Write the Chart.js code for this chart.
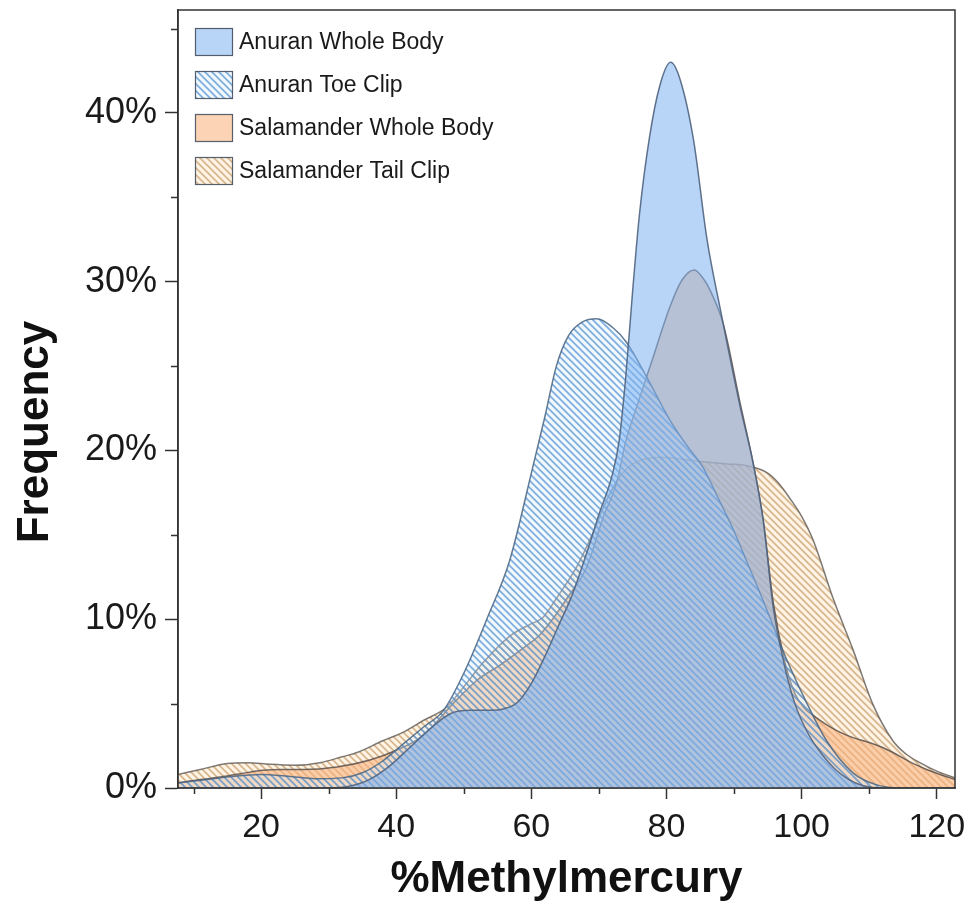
<!DOCTYPE html>
<html>
<head>
<meta charset="utf-8">
<script src="https://cdn.jsdelivr.net/npm/chart.js@4.4.0/dist/chart.umd.min.js"></script>
<style>
  html, body { margin: 0; padding: 0; background: #fff; }
  #wrap { width: 974px; height: 906px; }
</style>
</head>
<body>
<div id="wrap"><canvas id="densityChart" width="974" height="906"></canvas></div>
<script>
// ===== Data =====
const seriesNames = ['Anuran Whole Body', 'Anuran Toe Clip', 'Salamander Whole Body', 'Salamander Tail Clip'];

const anuranBodyX = [7.7, 30, 33, 36, 39, 42, 45, 48, 51, 54, 56, 58, 60, 62, 64, 66, 68, 70, 72, 73, 74, 75, 76, 77.5, 79, 80.6, 82, 84, 86, 88, 90.9, 92.8, 94.3, 95.8, 97.5, 99, 101, 103, 105, 107, 109, 112, 122.7];
const anuranBodyY = [0, 0, 0.1, 0.5, 1.3, 2.4, 3.5, 4.4, 4.6, 4.6, 4.7, 5.1, 6.2, 7.8, 9.6, 11.4, 13.7, 16.2, 18.6, 20.6, 24.5, 29.5, 34, 38.6, 41.6, 43.0, 42.0, 38.4, 32.5, 28.3, 22.6, 19.3, 15.9, 10.7, 7.2, 5.0, 3.2, 2.0, 1.1, 0.5, 0.15, 0, 0];

const toeClipX = [7.7, 12, 16, 20, 24, 28, 32, 35, 38, 41, 44, 47, 50, 53.4, 56.8, 60.2, 62, 63.7, 65.5, 67.5, 69.7, 72, 74.1, 77, 80.5, 83, 85.4, 87.5, 89.9, 91.8, 93.8, 95.8, 97.8, 100.8, 103.7, 107.6, 111, 115, 122.7];
const toeClipY = [0.3, 0.5, 0.7, 0.8, 0.7, 0.55, 0.6, 0.9, 1.6, 2.6, 3.6, 4.6, 6.8, 10.0, 13.5, 19.0, 22.0, 25.0, 26.8, 27.6, 27.8, 27.3, 26.4, 24.4, 21.8, 20.3, 19.0, 17.3, 15.3, 13.5, 11.6, 9.6, 7.6, 5.0, 2.8, 0.9, 0.2, 0, 0];

const salBodyX = [7.7, 11, 14, 17, 20.3, 23, 26.2, 31.2, 36.1, 40.1, 44, 48.4, 52, 55.4, 58.5, 61.3, 63.5, 65.2, 68.2, 70.6, 72.7, 74, 75.6, 78, 80.5, 82.3, 84.1, 85.6, 86.9, 88.4, 90.9, 92.8, 94.3, 95.8, 97.5, 99, 100.5, 101.7, 103.5, 105.2, 107.5, 110, 112, 114, 116, 118.5, 120.5, 122.7];
const salBodyY = [0.3, 0.5, 0.65, 0.85, 1.05, 1.1, 1.1, 1.25, 1.66, 2.25, 3.1, 5.0, 6.4, 7.3, 8.2, 9.1, 10.2, 11.2, 13.1, 16.0, 18.2, 20.6, 22.6, 25.5, 28.5, 30.1, 30.7, 30.1, 29.1, 27.5, 22.8, 19.3, 15.9, 11.0, 7.5, 5.6, 4.7, 4.3, 3.8, 3.4, 3.0, 2.7, 2.4, 2.0, 1.55, 1.1, 0.8, 0.5];

const tailClipX = [7.7, 11, 15, 18, 21.3, 25, 28.7, 32, 34.2, 38, 41, 44, 47.5, 50, 52.8, 56.8, 59.8, 61.7, 63.8, 66.7, 69.1, 71.2, 73, 75, 79, 85, 89, 91.9, 94.8, 96.5, 98.2, 100, 101.7, 104.6, 107.6, 110.5, 113.5, 115.5, 117.5, 120, 122.7];
const tailClipY = [0.8, 1.1, 1.45, 1.5, 1.4, 1.35, 1.5, 1.85, 2.1, 2.8, 3.3, 4.0, 4.8, 6.0, 7.4, 9.0, 9.7, 10.1, 11.3, 13.1, 15.1, 17.1, 18.4, 19.2, 19.6, 19.35, 19.2, 19.1, 18.7, 18.1, 17.2, 16.1, 14.7, 11.3, 8.2, 5.0, 2.8, 2.0, 1.5, 1.0, 0.6];

const xMajorTicks = [20, 40, 60, 80, 100, 120];
const xMinorTicks = [10, 30, 50, 70, 90, 110];
const yMajorTicks = [0, 10, 20, 30, 40];
const yMinorTicks = [5, 15, 25, 35, 45];

const X_MIN = 7.7, X_MAX = 122.7;
const Y_MIN = 0, Y_MAX = 46.1;

const AXIS_COLOR = '#333333';
const FONT = '"Liberation Sans", Arial, Helvetica, sans-serif';

// ===== Hatch patterns =====
function makeHatch(base, stripe, size, width) {
    const c = document.createElement('canvas');
    c.width = size; c.height = size;
    const g = c.getContext('2d');
    g.fillStyle = base;
    g.fillRect(0, 0, size, size);
    g.strokeStyle = stripe;
    g.lineWidth = width;
    g.beginPath();
    // "\" diagonals, wrapped at the corners so tiles join up
    g.moveTo(-1, -1); g.lineTo(size + 1, size + 1);
    g.moveTo(-1, size - 1); g.lineTo(1, size + 1);
    g.moveTo(size - 1, -1); g.lineTo(size + 1, 1);
    g.stroke();
    return g.createPattern(c, 'repeat');
}

const toeClipFill = makeHatch('rgba(215,235,252,0.35)', 'rgba(90,150,210,0.75)', 7, 1.7);
const tailClipFill = makeHatch('rgba(253,228,190,0.40)', 'rgba(200,155,105,0.70)', 7, 1.7);

function toPoints(xs, ys) {
    return xs.map((x, i) => ({ x: x, y: ys[i] }));
}

// ===== Frame, minor ticks, y title and legend inside the plot =====
const framePlugin = {
    id: 'frame',
    afterDraw(chart) {
        const { ctx, chartArea: a, scales } = chart;
        ctx.save();
        ctx.strokeStyle = AXIS_COLOR;
        ctx.lineWidth = 1.5;
        ctx.strokeRect(a.left, a.top, a.right - a.left, a.bottom - a.top);

        ctx.beginPath();
        xMinorTicks.forEach(v => {
            const px = Math.round(scales.x.getPixelForValue(v)) + 0.5;
            ctx.moveTo(px, a.bottom); ctx.lineTo(px, a.bottom + 6);
        });
        yMinorTicks.forEach(v => {
            const py = Math.round(scales.y.getPixelForValue(v)) + 0.5;
            ctx.moveTo(a.left - 7, py); ctx.lineTo(a.left, py);
        });
        ctx.stroke();

        // y axis title, sits a little below the middle of the axis
        ctx.save();
        ctx.translate(36, 432);
        ctx.rotate(-Math.PI / 2);
        ctx.font = 'bold 44px ' + FONT;
        ctx.fillStyle = '#111';
        ctx.textAlign = 'center';
        ctx.textBaseline = 'middle';
        ctx.fillText('Frequency', 0, 0);
        ctx.restore();

        // legend
        const boxW = 38, boxH = 28, rowGap = 43;
        const x0 = a.left + 17, y0 = a.top + 32;
        ctx.font = '23px ' + FONT;
        ctx.textBaseline = 'middle';
        ctx.textAlign = 'left';
        chart.data.datasets.forEach((ds, i) => {
            const cy = y0 + i * rowGap;
            ctx.fillStyle = '#ffffff';
            ctx.fillRect(x0, cy - boxH / 2, boxW, boxH);
            ctx.fillStyle = ds.backgroundColor;
            ctx.fillRect(x0, cy - boxH / 2, boxW, boxH);
            ctx.strokeStyle = 'rgba(70,80,95,0.9)';
            ctx.lineWidth = 1.2;
            ctx.strokeRect(x0 + 0.5, cy - boxH / 2 + 0.5, boxW - 1, boxH - 1);
            ctx.fillStyle = '#1a1a1a';
            ctx.fillText(ds.label, x0 + boxW + 6, cy + 1);
        });
        ctx.restore();
    }
};

// ===== Chart =====
const ctx = document.getElementById('densityChart').getContext('2d');
const densityChart = new Chart(ctx, {
    type: 'line',
    data: {
        datasets: [
            {
                label: seriesNames[0],
                data: toPoints(anuranBodyX, anuranBodyY),
                backgroundColor: 'rgba(126,179,242,0.55)',
                borderColor: 'rgba(80,100,128,0.9)',
                borderWidth: 1.5,
                fill: 'origin'
            },
            {
                label: seriesNames[1],
                data: toPoints(toeClipX, toeClipY),
                backgroundColor: toeClipFill,
                borderColor: 'rgba(70,100,130,0.85)',
                borderWidth: 1.5,
                fill: 'origin'
            },
            {
                label: seriesNames[2],
                data: toPoints(salBodyX, salBodyY),
                backgroundColor: 'rgba(250,175,120,0.55)',
                borderColor: 'rgba(90,80,75,0.85)',
                borderWidth: 1.5,
                fill: 'origin'
            },
            {
                label: seriesNames[3],
                data: toPoints(tailClipX, tailClipY),
                backgroundColor: tailClipFill,
                borderColor: 'rgba(95,90,85,0.8)',
                borderWidth: 1.5,
                fill: 'origin'
            }
        ]
    },
    options: {
        responsive: false,
        animation: false,
        devicePixelRatio: 1,
        cubicInterpolationMode: 'monotone',
        elements: { point: { radius: 0 } },
        layout: { padding: { left: 0, top: 10, right: 19, bottom: 0 } },
        plugins: {
            legend: { display: false },
            tooltip: { enabled: false }
        },
        scales: {
            x: {
                type: 'linear',
                min: X_MIN,
                max: X_MAX,
                afterFit: (scale) => { scale.height = 118; scale.paddingLeft = 0; scale.paddingRight = 0; },
                afterBuildTicks: (scale) => { scale.ticks = xMajorTicks.map(v => ({ value: v })); },
                ticks: {
                    color: '#1a1a1a',
                    padding: 8,
                    font: { family: FONT, size: 34 },
                    callback: (v) => v
                },
                grid: { drawOnChartArea: false, drawTicks: true, tickLength: 11, tickColor: AXIS_COLOR, tickWidth: 1.5 },
                border: { display: true, color: AXIS_COLOR, width: 1.5 },
                title: {
                    display: true,
                    text: '%Methylmercury',
                    color: '#111',
                    font: { family: FONT, size: 44, weight: 'bold' },
                    padding: { top: 0, bottom: 0 }
                }
            },
            y: {
                type: 'linear',
                min: Y_MIN,
                max: Y_MAX,
                afterFit: (scale) => { scale.width = 178; scale.paddingTop = 0; scale.paddingBottom = 0; },
                afterBuildTicks: (scale) => { scale.ticks = yMajorTicks.map(v => ({ value: v })); },
                ticks: {
                    color: '#1a1a1a',
                    padding: 8,
                    font: { family: FONT, size: 36 },
                    callback: (v) => v + '%'
                },
                grid: { drawOnChartArea: false, drawTicks: true, tickLength: 13, tickColor: AXIS_COLOR, tickWidth: 1.5 },
                border: { display: true, color: AXIS_COLOR, width: 1.5 },
                title: { display: false }
            }
        }
    },
    plugins: [framePlugin]
});
</script>
</body>
</html>
